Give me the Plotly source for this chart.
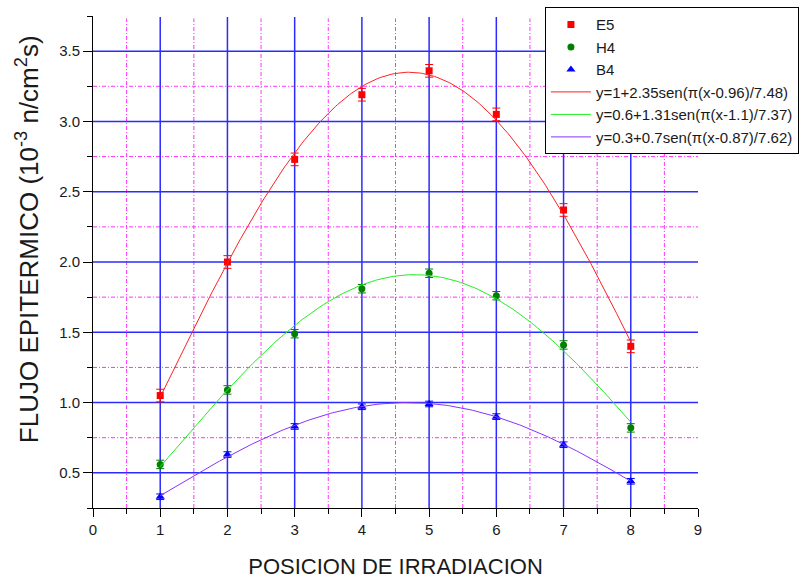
import numpy as np
import plotly.graph_objects as go

# ---- data ----
positions = [1, 2, 3, 4, 5, 6, 7, 8]
e5_values = [1.05, 2.00, 2.73, 3.19, 3.36, 3.05, 2.37, 1.40]
h4_values = [0.56, 1.09, 1.49, 1.81, 1.92, 1.76, 1.41, 0.82]
b4_values = [0.33, 0.63, 0.83, 0.97, 0.99, 0.90, 0.70, 0.44]
e5_err = [0.045] * 8
h4_err = [0.03] * 8
b4_err = [0.02] * 8

# fit parameters shown in legend: y = a + b*sen(pi*(x - c)/d)
fit_e5 = [1.0, 2.35, 0.96, 7.48]
fit_h4 = [0.6, 1.31, 1.1, 7.37]
fit_b4 = [0.3, 0.7, 0.87, 7.62]
fit_labels = ["y=1+2.35sen(π(x-0.96)/7.48)",
              "y=0.6+1.31sen(π(x-1.1)/7.37)",
              "y=0.3+0.7sen(π(x-0.87)/7.62)"]

x_ticks = [0, 1, 2, 3, 4, 5, 6, 7, 8, 9]
x_major_grid = [1, 2, 3, 4, 5, 6, 7, 8]
x_minor_grid = [0.5, 1.5, 2.5, 3.5, 4.5, 5.5, 6.5, 7.5, 8.5]
y_major_grid = [0.5, 1.0, 1.5, 2.0, 2.5, 3.0, 3.5]
y_minor_grid = [0.75, 1.25, 1.75, 2.25, 2.75, 3.25]

FONT = "Liberation Sans, Arial, sans-serif"
BLUE = "#2b2bff"
MAG = "#ff33ff"

fig = go.Figure()

fig.add_trace(go.Scatter(x=positions, y=e5_values, mode="markers", name="E5",
                         marker=dict(symbol="square", size=7, color="#ff0000"),
                         error_y=dict(type="data", array=e5_err, color="#ff0000", width=4, thickness=1)))
fig.add_trace(go.Scatter(x=positions, y=h4_values, mode="markers", name="H4",
                         marker=dict(symbol="circle", size=7, color="#008000"),
                         error_y=dict(type="data", array=h4_err, color="#008000", width=4, thickness=1)))
fig.add_trace(go.Scatter(x=positions, y=b4_values, mode="markers", name="B4",
                         marker=dict(symbol="triangle-up", size=8, color="#0000ff"),
                         error_y=dict(type="data", array=b4_err, color="#0000ff", width=4, thickness=1)))

xf = np.linspace(positions[0], positions[-1], 200)
for p, lab, col in zip([fit_e5, fit_h4, fit_b4], fit_labels, ["#ff2020", "#22ee22", "#8833ff"]):
    a, b, c, d = p
    yf = a + b * np.sin(np.pi * (xf - c) / d)
    fig.add_trace(go.Scatter(x=xf, y=yf, mode="lines", name=lab,
                             line=dict(color=col, width=1)))

shapes = []
for v in x_minor_grid:
    shapes.append(dict(type="line", xref="x", yref="paper", x0=v, x1=v, y0=0, y1=0.995,
                       layer="below", line=dict(color=MAG, width=1, dash="4px,2px,1px,2px")))
for v in y_minor_grid:
    shapes.append(dict(type="line", xref="paper", yref="y", x0=0, x1=1, y0=v, y1=v,
                       layer="below", line=dict(color=MAG, width=1, dash="4px,2px,1px,2px")))
for v in x_major_grid:
    shapes.append(dict(type="line", xref="x", yref="paper", x0=v, x1=v, y0=0, y1=0.998,
                       layer="below", line=dict(color=BLUE, width=1.5)))
for v in y_major_grid:
    shapes.append(dict(type="line", xref="paper", yref="y", x0=0, x1=1, y0=v, y1=v,
                       layer="below", line=dict(color=BLUE, width=1.5)))

fig.update_layout(
    width=808, height=581,
    margin=dict(l=93, r=110, t=16, b=73, autoexpand=False),
    paper_bgcolor="white", plot_bgcolor="white",
    font=dict(family=FONT, color="#1a1a1a"),
    shapes=shapes,
    showlegend=True,
    legend=dict(x=0.747, y=1.018, xanchor="left", yanchor="top",
                bgcolor="white", bordercolor="black", borderwidth=1,
                font=dict(family=FONT, size=15, color="#1a1a1a"),
                tracegroupgap=0, itemwidth=40),
    annotations=[dict(text="FLUJO EPITERMICO (10<sup>-3</sup> n/cm<sup>2</sup>s)",
                      xref="paper", yref="paper", x=-0.107, y=0.547,
                      xanchor="center", yanchor="middle", textangle=-90,
                      showarrow=False, font=dict(family=FONT, size=26, color="#1a1a1a"))],
    xaxis=dict(range=[0, 9], tickvals=x_ticks, showgrid=False, zeroline=False,
               showline=True, linecolor="black", linewidth=1,
               ticks="outside", ticklen=8, tickcolor="black",
               minor=dict(dtick=0.5, ticks="outside", ticklen=5, tickcolor="black", showgrid=False),
               tickfont=dict(size=15),
               title=dict(text="POSICION DE IRRADIACION", font=dict(size=22), standoff=21)),
    yaxis=dict(range=[0.25, 3.75], dtick=0.5, tick0=0.5, tickformat=".1f",
               showgrid=False, zeroline=False,
               showline=True, linecolor="black", linewidth=1,
               ticks="outside", ticklen=9, tickcolor="black",
               minor=dict(dtick=0.25, tick0=0.25, ticks="outside", ticklen=5, tickcolor="black", showgrid=False),
               tickfont=dict(size=15)),
)

fig.write_html("out.html")
